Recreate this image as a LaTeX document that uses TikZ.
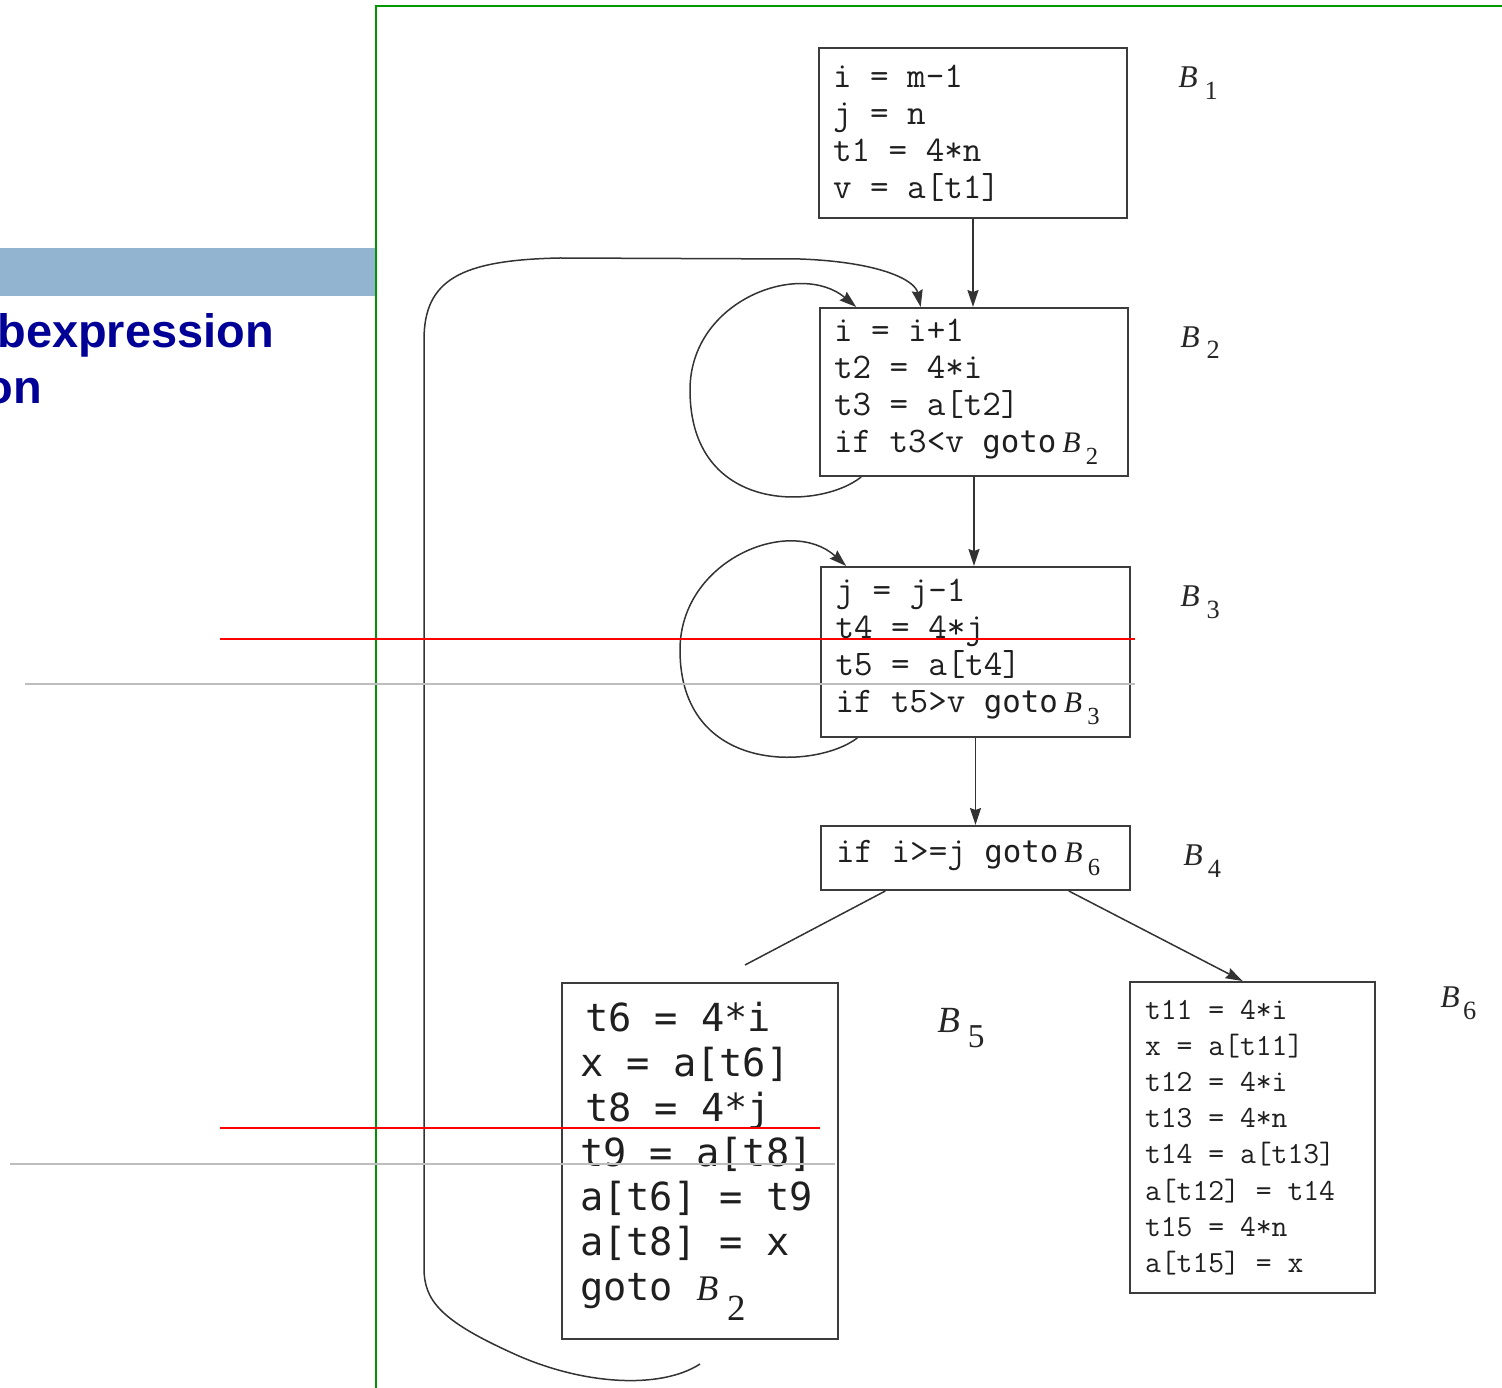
\documentclass[tikz,border=0pt]{standalone}
\usepackage{fontspec}
\usetikzlibrary{arrows.meta,calc}
\newfontfamily\altfont{DejaVu Sans Mono}
\newfontfamily\labfont{Liberation Serif}
\newfontfamily\titlefont{Liberation Sans}
\newcommand\Bx[5]{{\labfont\fontsize{#1}{#1}\selectfont\itshape B}\hspace{#4}\raisebox{-#5}{\labfont\fontsize{#2}{#2}\selectfont #3}}
\newcommand\gt{{\altfont\fontsize{17.5}{21}\selectfont goto}}
\newcommand\ws{\hbox to \fontcharwd\font`x{}}
\newcommand\eq{\hbox to 3\fontcharwd\font`x{\hss=\hss}}
\definecolor{barblue}{RGB}{147,180,209}
\definecolor{titleblue}{RGB}{0,0,150}
\definecolor{greenline}{RGB}{0,150,0}
\definecolor{boxgray}{RGB}{60,60,60}
\definecolor{graymark}{RGB}{190,190,190}
\tikzset{
  box/.style={draw=boxgray, line width=0.04cm, align=left, inner ysep=0pt, text=black!88,
    font=\ttfamily\fontsize{20.5}{21}\selectfont},
  lab/.style={anchor=base west, inner sep=0pt, text=black!85},
  title/.style={anchor=base west, inner sep=0pt, text=titleblue,
    font=\titlefont\bfseries\fontsize{26.7}{26.7}\selectfont},
  conn/.style={draw=black!80, line width=0.03cm},
  arr/.style={conn, -{Stealth[length=0.34cm,width=0.22cm,inset=0.04cm]}},
}
\begin{document}
\begin{tikzpicture}[x=0.02cm,y=-0.02cm]
\useasboundingbox (0,0) rectangle (1502,1388);
% left slide fragment
\fill[barblue] (0,248) rectangle (376,296);
\node[title] (t1) at (-3,348) {bexpression};
\node[title] (t2) at (-16,404) {on};
% green frame
\draw[greenline, line width=0.05cm] (376,1388) -- (376,6) -- (1502,6);
% blocks
\node[box, minimum width=6.16cm, minimum height=3.4cm, text width=5.6cm, inner xsep=0.28cm] (b1) at (973,133)
  {i\eq m-1\\ j\eq n\\ t1\eq 4*n\\ v\eq a[t1]};
\node[box, minimum width=6.16cm, minimum height=3.36cm, text width=5.6cm, inner xsep=0.28cm] (b2) at (974,392)
  {i\eq i+1\\ t2\eq 4*i\\ t3\eq a[t2]\\ if\ws t3<v\ws\gt\,\Bx{17}{14}{2}{3pt}{7pt}};
\node[box, minimum width=6.18cm, minimum height=3.4cm, text width=5.6cm, inner xsep=0.29cm] (b3) at (975.5,652)
  {j\eq j-1\\ t4\eq 4*j\\ t5\eq a[t4]\\ if\ws t5>v\ws\gt\,\Bx{17}{14}{3}{3pt}{7pt}};
\node[box, minimum width=6.18cm, minimum height=1.28cm, text width=5.58cm, inner xsep=0.3cm] (b4) at (975.5,858)
  {if\ws i>=j\ws\gt\,\Bx{17}{14}{6}{3pt}{7pt}};
\node[box, minimum width=5.52cm, minimum height=7.12cm, text width=4.8cm, inner xsep=0.36cm,
  font=\altfont\fontsize{22}{25.6}\selectfont] (b5) at (700,1161)
  {\hspace*{0.1cm}t6\eq 4*i\\ x\eq a[t6]\\ \hspace*{0.1cm}t8\eq 4*j\\ t9\eq a[t8]\\ a[t6]\eq t9\\ a[t8]\eq x\\ goto\ws\Bx{20.5}{21}{2}{5pt}{11pt}};
\node[box, minimum width=4.9cm, minimum height=6.22cm, text width=4.3cm, inner xsep=0.3cm,
  font=\ttfamily\fontsize{17.5}{20.6}\selectfont] (b6) at (1252.5,1137.5)
  {t11\eq 4*i\\ x\eq a[t11]\\ t12\eq 4*i\\ t13\eq 4*n\\ t14\eq a[t13]\\ a[t12]\eq t14\\ t15\eq 4*n\\ a[t15]\eq x};
% block labels
\node[lab] (l1) at (1178,88) {\Bx{18}{15}{1}{4pt}{6.5pt}};
\node[lab] (l2) at (1180,348) {\Bx{18}{15}{2}{4pt}{6pt}};
\node[lab] (l3) at (1180,607) {\Bx{18}{15}{3}{4pt}{6.5pt}};
\node[lab] (l4) at (1183,866) {\Bx{18}{15}{4}{3pt}{6.5pt}};
\node[lab] (l5) at (937,1032) {\Bx{21}{19}{5}{4.5pt}{9pt}};
\node[lab] (l6) at (1440,1007) {\Bx{18}{15}{6}{2pt}{7pt}};
% connectors
\draw[arr] (b1.south) -- (b1.south |- b2.north);
\draw[arr] (b2.south) -- (b2.south |- b3.north);
\draw[arr] (b3.south) -- (b3.south |- b4.north);
\draw[arr] ($(b4.south west)!0.8!(b4.south east)$) -- ($(b6.north west)!0.46!(b6.north east)$);
\coordinate (e5) at (745,965);
\draw[conn] ($(b4.south west)!0.21!(b4.south east)$) -- (e5);
\draw[arr] ($(b2.south west)!0.136!(b2.south east)$) .. controls (820,510) and (690,515) .. (690,390)
  .. controls (690,300) and (800,260) .. ($(b2.north west)!0.12!(b2.north east)$);
\draw[arr] ($(b3.south west)!0.12!(b3.south east)$) .. controls (815,770) and (680,775) .. (680,650)
  .. controls (680,560) and (790,515) .. ($(b3.north west)!0.084!(b3.north east)$);
\coordinate (s5) at (700,1364);
\draw[arr] (s5) .. controls (660,1390) and (580,1385) .. (510,1352)
  .. controls (440,1320) and (424,1300) .. (424,1268) -- (424,340)
  .. controls (424,280) and (460,260) .. (560,258) -- (800,259)
  .. controls (880,262) and (915,280) .. ($(b2.north west)!0.328!(b2.north east)$);
% overlay marks
\draw[red, line width=0.04cm] (220,639) -- (1135,639);
\draw[red, line width=0.04cm] (220,1128) -- (820,1128);
\draw[graymark, line width=0.04cm] (25,684) -- (1135,684);
\draw[graymark, line width=0.04cm] (10,1164) -- (835,1164);
\end{tikzpicture}
\end{document}
